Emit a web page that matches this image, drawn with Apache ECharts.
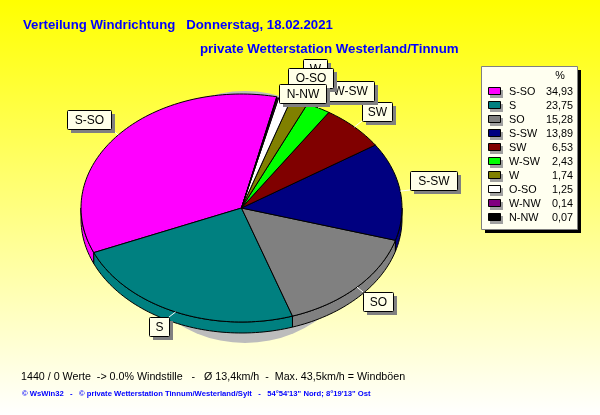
<!DOCTYPE html>
<html><head><meta charset="utf-8">
<style>html,body{margin:0;padding:0;background:#fff}#c{width:600px;height:415px}</style>
<script src="https://cdn.jsdelivr.net/npm/echarts@6/dist/echarts.min.js"></script>
</head><body><div id="c"></div>
<script>
const categories = ['S-SO','S','SO','S-SW','SW','W-SW','W','O-SO','W-NW','N-NW'];
const shares = [34.93,23.75,15.28,13.89,6.53,2.43,1.74,1.25,0.14,0.07];
const shareLabels = ['34,93','23,75','15,28','13,89','6,53','2,43','1,74','1,25','0,14','0,07'];
const colors = ['#ff00ff','#008080','#808080','#000080','#800000','#00ff00','#808000','#ffffff','#800080','#000000'];
const titleLine1 = 'Verteilung Windrichtung   Donnerstag, 18.02.2021';
const titleLine2 = 'private Wetterstation Westerland/Tinnum';
const footer1 = '1440 / 0 Werte  -> 0.0% Windstille   -   Ø 13,4km/h  -  Max. 43,5km/h = Windböen';
const footer2 = '© WsWin32   -   © private Wetterstation Tinnum/Westerland/Sylt   -   54°54\'13" Nord; 8°19\'13" Ost';
const labelOrder = ['S-SO','S','SO','S-SW','SW','W-SW','W','O-SO','N-NW'];
// label box layout: left, top, width, height
const labelBoxes = {'S-SO':[67,110,44,19],'S':[149,317,20,19],'SO':[363,292,30,19],'S-SW':[410,171,47,19],'SW':[362,102,30,19],
  'W-SW':[326,81,48,20],'W':[303,59,24,20],'O-SO':[288,68,45,20],'N-NW':[279,84,47,19]};

const CX=241.5, CY=208, RX=160.5, RY=114, DEPTH=11, START=282.7;
const RAD=Math.PI/180;
const pt=(deg,dy=0)=>[CX+RX*Math.cos(deg*RAD),CY+RY*Math.sin(deg*RAD)+dy];
function arc(a0,a1,dy=0){const out=[];const n=Math.max(2,Math.ceil(Math.abs(a1-a0)/1.5));
  for(let i=0;i<=n;i++)out.push(pt(a0+(a1-a0)*i/n,dy));return out;}
const total=shares.reduce((a,b)=>a+b,0);
const spans=[];let acc=START;
shares.forEach(v=>{const e=acc-v/total*360;spans.push([acc,e]);acc=e;});

function renderItem(params,api){
  const [a0,a1]=spans[params.dataIndex];
  const color=api.visual('color');
  const kids=[];
  const stroke={stroke:'#000',lineWidth:1};
  const hi=Math.min(a0,180),lo=Math.max(a1,0);
  if(hi>lo){
    kids.push({type:'polygon',shape:{points:arc(hi,lo).concat(arc(lo,hi,DEPTH))},style:{fill:color,...stroke}});
  }
  kids.push({type:'polygon',shape:{points:[[CX,CY]].concat(arc(a0,a1))},style:{fill:color,...stroke}});
  return {type:'group',children:kids};
}

const g=[];
const txt=(x,y,text,font,fill,align,z)=>({type:'text',z:z||30,style:{x,y,text,font,fill,align:align||'left',verticalAlign:'middle'}});
// pie shadow
g.push({type:'circle',shape:{cx:245,cy:217,r:126},style:{fill:'#bcbcbc'},z:1});
// leader lines and label boxes
labelOrder.forEach(n=>{
  const [x,y,w,h]=labelBoxes[n];
  const s=spans[categories.indexOf(n)],p=pt((s[0]+s[1])/2);
  const qx=Math.min(x+w,Math.max(x,p[0])),qy=Math.min(y+h,Math.max(y,p[1]));
  g.push({type:'line',shape:{x1:p[0],y1:p[1],x2:qx,y2:qy},style:{stroke:'#fff',lineWidth:1},z:10});
});
labelOrder.forEach((n,k)=>{
  const [x,y,w,h]=labelBoxes[n];
  const z=20+k*3;
  g.push({type:'rect',shape:{x:x+4,y:y+4,width:w,height:h},style:{fill:'#808080'},z});
  g.push({type:'rect',shape:{x:x+.5,y:y+.5,width:w,height:h,r:1},style:{fill:'#ffffe8',stroke:'#000',lineWidth:1},z:z+1});
  g.push(txt(x+w/2+.5,y+h/2+1,n,'12px "Liberation Sans"','#000','center',z+2));
});
// legend
const legendFont='10.8px "Liberation Sans"';
g.push({type:'rect',shape:{x:485,y:70,width:96,height:163},style:{fill:'#000'},z:60});
g.push({type:'rect',shape:{x:481.5,y:66.5,width:96,height:163},style:{fill:'#fffff0',stroke:'#808080',lineWidth:1},z:61});
g.push(txt(560,76,'%',legendFont,'#000','center',62));
categories.forEach((n,i)=>{
  const y=92+i*14;
  g.push({type:'rect',shape:{x:490,y:y-2,width:13,height:8},style:{fill:'#a0a0a0'},z:62});
  g.push({type:'rect',shape:{x:488.5,y:y-4.5,width:12,height:7},style:{fill:colors[i],stroke:'#000',lineWidth:1},z:63});
  g.push(txt(509,y,n,legendFont,'#000','left',63));
  g.push(txt(573,y,shareLabels[i],legendFont,'#000','right',63));
});
// texts
g.push(txt(23,25,titleLine1,'bold 13.2px "Liberation Sans"','#0000ff'));
g.push(txt(200,49,titleLine2,'bold 13.3px "Liberation Sans"','#0000ff'));
g.push(txt(21,377,footer1,'10.7px "Liberation Sans"','#000'));
g.push(txt(22,394,footer2,'bold 7.67px "Liberation Sans"','#0000ff'));

const chart=echarts.init(document.getElementById('c'),null,{renderer:'canvas',width:600,height:415});
chart.setOption({
  animation:false,
  backgroundColor:new echarts.graphic.LinearGradient(0,0,0,1,[{offset:0,color:'#ffff00'},{offset:1,color:'#ffffff'}]),
  graphic:{elements:g},
  series:[{type:'custom',coordinateSystem:'none',z:5,renderItem,
    data:shares.map((v,i)=>({name:categories[i],value:v,itemStyle:{color:colors[i]}}))}]
});
</script></body></html>
